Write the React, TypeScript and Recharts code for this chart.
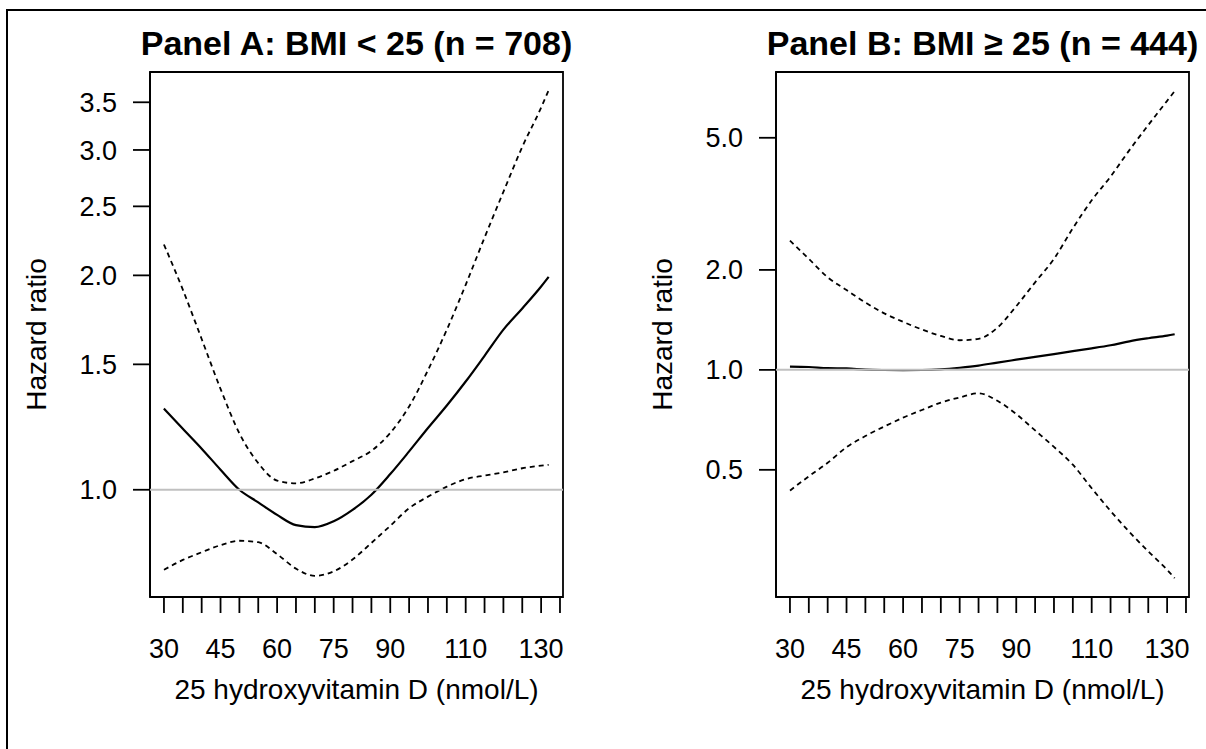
import React from "react";
import { LineChart, Line, XAxis, YAxis, ReferenceLine, ReferenceArea } from "recharts";

const vitD = [30, 35, 40, 45, 50, 55, 60, 65, 70, 75, 80, 85, 90, 95, 100, 105, 110, 115, 120, 125, 130, 132];

// Panel A: BMI < 25
const hrA = [1.3, 1.218, 1.142, 1.067, 1.0, 0.96, 0.922, 0.892, 0.886, 0.903, 0.937, 0.984, 1.052, 1.132, 1.221, 1.313, 1.419, 1.542, 1.678, 1.797, 1.929, 1.99];
const upperA = [2.21, 1.91, 1.628, 1.386, 1.2, 1.09, 1.03, 1.021, 1.037, 1.063, 1.097, 1.134, 1.202, 1.309, 1.472, 1.678, 1.94, 2.26, 2.62, 3.03, 3.44, 3.64];
const lowerA = [0.772, 0.797, 0.817, 0.836, 0.848, 0.844, 0.812, 0.775, 0.757, 0.768, 0.798, 0.842, 0.89, 0.942, 0.978, 1.01, 1.035, 1.047, 1.058, 1.072, 1.081, 1.084];

// Panel B: BMI >= 25
const hrB = [1.023, 1.02, 1.012, 1.01, 1.002, 0.999, 0.998, 0.999, 1.004, 1.015, 1.03, 1.052, 1.073, 1.094, 1.116, 1.139, 1.161, 1.186, 1.219, 1.245, 1.268, 1.28];
const upperB = [2.45, 2.16, 1.9, 1.74, 1.595, 1.48, 1.395, 1.323, 1.265, 1.228, 1.24, 1.34, 1.555, 1.835, 2.16, 2.67, 3.24, 3.82, 4.59, 5.46, 6.46, 6.91];
const lowerB = [0.433, 0.478, 0.525, 0.585, 0.632, 0.675, 0.718, 0.757, 0.797, 0.826, 0.85, 0.807, 0.736, 0.657, 0.586, 0.518, 0.44, 0.376, 0.325, 0.284, 0.25, 0.236];

const xTicks = [30, 35, 40, 45, 50, 55, 60, 65, 70, 75, 80, 85, 90, 95, 100, 105, 110, 115, 120, 125, 130, 135];
const xLabels = [30, 45, 60, 75, 90, 110, 130];
const yTicksA = [1.0, 1.5, 2.0, 2.5, 3.0, 3.5];
const yTicksB = [0.5, 1.0, 2.0, 5.0];

const FONT = "'Liberation Sans', Arial, Helvetica, sans-serif";
const X_DOMAIN: [number, number] = [26.3, 135.8];
const PLOT_LEFT = 150;
const PLOT_RIGHT = 563;
const PLOT_TOP = 72;
const PLOT_BOTTOM = 597;
const H = 749;

type VB = { x: number; y: number; width: number; height: number };

function TitleLabel({ viewBox, text }: { viewBox?: VB; text: string }) {
  if (!viewBox) return null;
  return (
    <text x={viewBox.x + viewBox.width / 2} y={55} textAnchor="middle" fontFamily={FONT} fontWeight="bold" fontSize={34} fill="#000">
      {text}
    </text>
  );
}

function XTitle({ viewBox, text }: { viewBox?: VB; text: string }) {
  if (!viewBox) return null;
  return (
    <text x={viewBox.x + viewBox.width / 2} y={699} textAnchor="middle" fontFamily={FONT} fontSize={28} fill="#000">
      {text}
    </text>
  );
}

function YTitle({ viewBox, text }: { viewBox?: VB; text: string }) {
  if (!viewBox) return null;
  const x = 36;
  const y = viewBox.y + viewBox.height / 2;
  return (
    <text x={x} y={y} dy="0.35em" transform={`rotate(-90, ${x}, ${y})`} textAnchor="middle" fontFamily={FONT} fontSize={28} fill="#000">
      {text}
    </text>
  );
}

type PanelProps = {
  title: string;
  hr: number[];
  lower: number[];
  upper: number[];
  yDomain: [number, number];
  yTicks: number[];
  width: number;
};

function Panel({ title, hr, lower, upper, yDomain, yTicks, width }: PanelProps) {
  const rows = vitD.map((x, i) => ({ x, hr: hr[i], lo: lower[i], hi: upper[i] }));
  const axisLine = { stroke: "#000", strokeWidth: 1.8 };
  const tickStyle = { fill: "#000", fontSize: 27, fontFamily: FONT };
  const margin = { top: 0, right: width - PLOT_RIGHT, bottom: 0, left: 0 };

  return (
    <div style={{ position: "relative", width, height: H }}>
      <LineChart width={width} height={H} data={rows} margin={margin}>
        <XAxis
          xAxisId="top"
          orientation="top"
          dataKey="x"
          type="number"
          domain={X_DOMAIN}
          allowDataOverflow
          height={PLOT_TOP}
          tick={false}
          tickLine={false}
          axisLine={false}
          label={<TitleLabel text={title} />}
        />
        <XAxis
          dataKey="x"
          type="number"
          domain={X_DOMAIN}
          allowDataOverflow
          ticks={xTicks}
          interval={0}
          height={H - PLOT_BOTTOM}
          tickSize={16}
          tickMargin={26}
          tickLine={axisLine}
          axisLine={axisLine}
          tick={tickStyle}
          tickFormatter={(v: number) => (xLabels.includes(v) ? String(v) : "")}
          label={<XTitle text="25 hydroxyvitamin D (nmol/L)" />}
        />
        <YAxis
          type="number"
          scale="log"
          domain={yDomain}
          allowDataOverflow
          ticks={yTicks}
          interval={0}
          width={PLOT_LEFT}
          tickSize={17}
          tickMargin={16}
          tickLine={axisLine}
          axisLine={axisLine}
          tick={tickStyle}
          tickFormatter={(v: number) => v.toFixed(1)}
          label={<YTitle text="Hazard ratio" />}
        />
        <ReferenceArea
          x1={X_DOMAIN[0]}
          x2={X_DOMAIN[1]}
          y1={yDomain[0]}
          y2={yDomain[1]}
          fill="none"
          fillOpacity={0}
          stroke="#000"
          strokeWidth={1.8}
          ifOverflow="visible"
        />
        <Line dataKey="hi" type="monotone" stroke="#000" strokeWidth={1.8} strokeDasharray="5 4" dot={false} isAnimationActive={false} />
        <Line dataKey="lo" type="monotone" stroke="#000" strokeWidth={1.8} strokeDasharray="5 4" dot={false} isAnimationActive={false} />
        <Line dataKey="hr" type="monotone" stroke="#000" strokeWidth={2.2} dot={false} isAnimationActive={false} />
      </LineChart>

      {/* the HR = 1 line is drawn last, on top of the curves, as in the original */}
      <div style={{ position: "absolute", left: 0, top: 0 }}>
        <LineChart width={width} height={H} data={rows} margin={margin}>
          <XAxis xAxisId="top" orientation="top" dataKey="x" type="number" domain={X_DOMAIN} allowDataOverflow height={PLOT_TOP} tick={false} tickLine={false} axisLine={false} />
          <XAxis dataKey="x" type="number" domain={X_DOMAIN} allowDataOverflow height={H - PLOT_BOTTOM} tick={false} tickLine={false} axisLine={false} />
          <YAxis type="number" scale="log" domain={yDomain} allowDataOverflow width={PLOT_LEFT} tick={false} tickLine={false} axisLine={false} />
          <ReferenceLine y={1} stroke="#c0c0c0" strokeWidth={2} />
        </LineChart>
      </div>
    </div>
  );
}

export default function App() {
  return (
    <div style={{ position: "absolute", left: 0, top: 0, width: 1206, height: H, overflow: "hidden", background: "#fff" }}>
      <div style={{ position: "absolute", left: 6, top: 9, width: 1200, height: 740, borderLeft: "2.5px solid #000", borderTop: "2.5px solid #000" }} />
      <div style={{ position: "absolute", left: 0, top: 0 }}>
        <Panel title="Panel A: BMI < 25 (n = 708)" hr={hrA} lower={lowerA} upper={upperA} yDomain={[0.707, 3.86]} yTicks={yTicksA} width={603} />
      </div>
      <div style={{ position: "absolute", left: 626, top: 0 }}>
        <Panel title="Panel B: BMI ≥ 25 (n = 444)" hr={hrB} lower={lowerB} upper={upperB} yDomain={[0.207, 7.89]} yTicks={yTicksB} width={580} />
      </div>
    </div>
  );
}
